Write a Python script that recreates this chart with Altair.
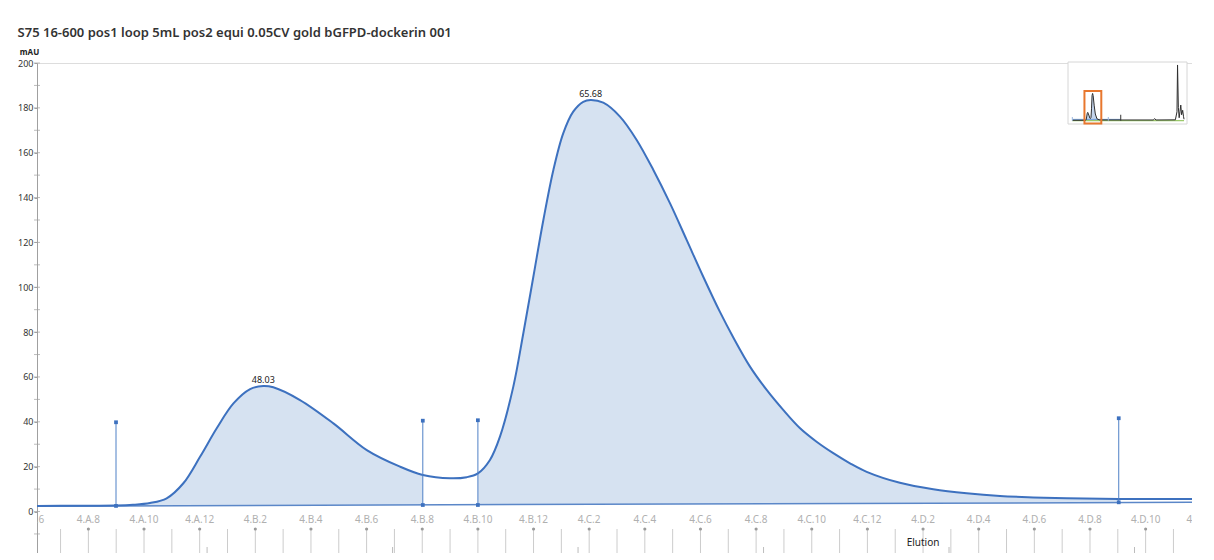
import altair as alt
import pandas as pd
import numpy as np

title_text = "S75 16-600 pos1 loop 5mL pos2 equi 0.05CV gold bGFPD-dockerin 001"

# UV trace (ml, mAU)
curve_ml = [35.83, 38.0, 40.09, 41.0, 41.92, 42.82, 43.72, 44.62, 45.52, 46.42, 47.32, 48.03, 48.57,
            50.01, 51.81, 53.61, 55.40, 56.63, 58.10, 59.0, 59.60, 60.25, 60.79, 61.51, 62.05, 62.59,
            63.13, 63.67, 64.20, 64.74, 65.28, 65.68, 66.36, 67.26, 68.16, 69.06, 69.96, 70.86, 71.75,
            72.65, 73.37, 74.27, 75.17, 76.06, 76.97, 77.86, 78.76, 79.66, 80.56, 82.35, 84.15, 85.95,
            87.75, 89.54, 91.34, 94.15, 98.10]
curve_mau = [2.5, 2.6, 2.7, 3.0, 3.8, 5.9, 12.6, 24.4, 37.1, 48.2, 54.6, 56.0, 55.4,
             49.7, 39.3, 27.4, 20.0, 16.3, 14.8, 15.3, 17.0, 23.0, 33.4, 55.7, 79.5, 104.7,
             130.0, 152.3, 168.6, 178.3, 182.7, 183.5, 182.3, 176.1, 165.7, 152.3, 137.4, 121.0, 104.7,
             89.0, 77.6, 64.6, 54.2, 45.3, 37.1, 31.1, 26.0, 21.5, 17.7, 12.8, 9.9, 8.1,
             6.9, 6.3, 5.9, 5.6, 5.6]

base_ml = [35.83, 98.10]
base_mau = [2.4, 4.1]

peak_ml = [48.03, 65.68]
peak_mau = [56.0, 183.5]
peak_labels = ["48.03", "65.68"]

drop_ml = [40.09, 56.63, 59.60, 94.15]
drop_top = [39.8, 40.5, 40.7, 41.6]
drop_bottom = [2.5, 2.9, 2.9, 4.1]

frac_names = ["4.A.6", "4.A.7", "4.A.8", "4.A.9", "4.A.10", "4.A.11", "4.A.12",
              "4.B.1", "4.B.2", "4.B.3", "4.B.4", "4.B.5", "4.B.6", "4.B.7", "4.B.8", "4.B.9",
              "4.B.10", "4.B.11", "4.B.12",
              "4.C.1", "4.C.2", "4.C.3", "4.C.4", "4.C.5", "4.C.6", "4.C.7", "4.C.8", "4.C.9",
              "4.C.10", "4.C.11", "4.C.12",
              "4.D.1", "4.D.2", "4.D.3", "4.D.4", "4.D.5", "4.D.6", "4.D.7", "4.D.8", "4.D.9",
              "4.D.10", "4.D.11", "4.D.12"]
frac_ml = [35.6, 37.1, 38.6, 40.1, 41.6, 43.1, 44.6,
           46.1, 47.6, 49.1, 50.6, 52.1, 53.6, 55.1, 56.6, 58.1,
           59.6, 61.1, 62.6,
           64.1, 65.6, 67.1, 68.6, 70.1, 71.6, 73.1, 74.6, 76.1,
           77.6, 79.1, 80.6,
           82.1, 83.6, 85.1, 86.6, 88.1, 89.6, 91.1, 92.6, 94.1,
           95.6, 97.1, 98.6]

elution_ml = [83.6]
elution_text = ["Elution"]

# axis tick values
y_major = [0, 20, 40, 60, 80, 100, 120, 140, 160, 180, 200]
y_minor = [-10, 10, 30, 50, 70, 90, 110, 130, 150, 170, 190]
x_major = [40, 50, 60, 70, 80, 90]
x_minor = [45, 55, 65, 75, 85, 95]

# overview inset (run overview, ml / mAU)
ov_ml = [-9, 40, 42, 44, 46, 48, 52, 56, 58, 60, 62, 64, 66, 68, 72, 76, 82, 90, 100, 170, 290,
         296, 300, 372, 378, 380, 383, 386, 389, 392, 395, 399, 402, 404]
ov_mau = [3, 3, 6, 25, 48, 56, 38, 17, 15, 22, 80, 170, 183, 168, 100, 45, 13, 6, 5, 5, 5,
          14, 5, 6, 60, 374, 90, 20, 60, 105, 40, 70, 30, 10]
ov_blue_ml = [-9, 170]
ov_blue_mau = [9, 9]
ov_green_ml = [-9, 404]
ov_green_mau = [0, 0]
ov_tick_ml = [-9, 124, 170]
ov_tick_top = [25, 25, 40]
ov_tick_color = ["#9db8e0", "#9db8e0", "#333333"]

# ---------------- layout ----------------
W, H = 1155, 490
XDOM = [35.83, 98.10]
YDOM = [-18.5, 200]
BLUE = "#3d71bf"
FILL = "#d6e2f1"
FONT = "Noto Sans"
AXC = "#a0a0a0"

xscale = alt.Scale(domain=XDOM, nice=False, zero=False)
yscale = alt.Scale(domain=YDOM, nice=False, zero=False)
xaxis = alt.Axis(values=x_major, labelOverlap=False, format="d",
                 grid=False, domainColor=AXC, tickColor=AXC, tickSize=4,
                 labelFontSize=9, labelColor="#333", labelFont=FONT,
                 title="ml", titleFontSize=9, titleFontWeight="normal", titleFont=FONT,
                 titleAnchor="end", titleAlign="left", titleX=W + 12, titleY=2,
                 titleBaseline="top")
yaxis = alt.Axis(values=y_major, labelOverlap=False, format="d",
                 grid=False, domainColor=AXC, tickColor=AXC, tickSize=3,
                 labelPadding=1, labelFontSize=9, labelColor="#333", labelFont=FONT,
                 title="mAU", titleAngle=0, titleAlign="center", titleBaseline="alphabetic",
                 titleX=-8, titleY=-9, titleFontSize=8, titleFontWeight="bold",
                 titleFont=FONT, titleColor="#222")


def X():
    return alt.X("ml:Q", scale=xscale, axis=xaxis)


def Y():
    return alt.Y("mau:Q", scale=yscale, axis=yaxis)


curve_df = pd.DataFrame({"ml": curve_ml, "mau": curve_mau})
base_df = pd.DataFrame({"ml": base_ml, "mau": base_mau})

rows = []
for pid, (a, b) in enumerate([(drop_ml[0], drop_ml[1]), (drop_ml[2], drop_ml[3])]):
    for m, v in zip(curve_ml, curve_mau):
        if a - 1e-6 <= m <= b + 1e-6:
            rows.append({"ml": m, "mau": v, "mau2": float(np.interp(m, base_ml, base_mau)), "peak": pid})
area_df = pd.DataFrame(rows)

peak_df = pd.DataFrame({"ml": peak_ml, "mau": peak_mau, "label": peak_labels})
drop_df = pd.DataFrame({"ml": drop_ml, "mau": drop_top, "mau2": drop_bottom})
drop_pts = pd.DataFrame({"ml": drop_ml + drop_ml, "mau": drop_top + drop_bottom})

frac_df = pd.DataFrame({"ml": frac_ml, "name": frac_names})
frac_df["lab"] = [int(n.split(".")[-1]) % 2 == 0 for n in frac_names]
frac_in = frac_df[(frac_df.ml >= XDOM[0]) & (frac_df.ml <= XDOM[1])]
frac_lab = frac_df[frac_df.lab]
frac_lab_in = frac_in[frac_in.lab]
elu_df = pd.DataFrame({"ml": elution_ml, "text": elution_text})

ymin_df = pd.DataFrame({"mau": y_minor})
ymaj_df = pd.DataFrame({"mau": y_major})
xmin_df = pd.DataFrame({"ml": x_minor})

INTERP = "catmull-rom"
area = alt.Chart(area_df).mark_area(color=FILL, opacity=1, interpolate=INTERP).encode(
    x=X(), y=Y(), y2="mau2:Q", detail="peak:N")
base_line = alt.Chart(base_df).mark_line(color="#5b87c8", strokeWidth=1.5).encode(x=X(), y=Y())
curve = alt.Chart(curve_df).mark_line(color=BLUE, strokeWidth=2, interpolate=INTERP).encode(x=X(), y=Y())
drops = alt.Chart(drop_df).mark_rule(color="#4f80c6", strokeWidth=1).encode(x=X(), y=Y(), y2="mau2:Q")
drop_marks = alt.Chart(drop_pts).mark_square(color="#3d71bf", size=14, opacity=1).encode(x=X(), y=Y())
peak_text = alt.Chart(peak_df).mark_text(fontSize=9, font=FONT, color="#222", baseline="bottom", dy=-1).encode(
    x=X(), y=Y(), text="label:N")

frac_rules = alt.Chart(frac_in).mark_rule(color="#cccccc", strokeWidth=1).encode(
    x=X(), y=alt.datum(-7.8), y2=alt.datum(-18.5))
frac_dots = alt.Chart(frac_lab_in).mark_circle(color="#9a9a9a", size=10, opacity=1).encode(
    x=X(), y=alt.datum(-7.8))
frac_text = alt.Chart(frac_lab).mark_text(fontSize=10, font=FONT, color="#b0b0b0", baseline="middle",
                                          clip=True).encode(x=X(), y=alt.datum(-3.6), text="name:N")
elu = alt.Chart(elu_df).mark_text(fontSize=10, font=FONT, color="#222", baseline="middle").encode(
    x=X(), y=alt.datum(-14.0), text="text:N")

# minor ticks crossing the axis lines
y_minor_ticks = alt.Chart(ymin_df).mark_tick(orient="horizontal", color=AXC, size=6, thickness=1).encode(
    x=alt.datum(XDOM[0]), y=Y())
y_major_ticks = alt.Chart(ymaj_df).mark_tick(orient="horizontal", color=AXC, size=6, thickness=1).encode(
    x=alt.datum(XDOM[0]), y=Y())
x_minor_ticks = alt.Chart(xmin_df).mark_tick(orient="vertical", color=AXC, size=8, thickness=1, yOffset=-2).encode(
    x=X(), y=alt.datum(YDOM[0]))

main = alt.layer(area, base_line, curve, drops, drop_marks, peak_text,
                 frac_rules, frac_dots, frac_text, elu, y_minor_ticks, y_major_ticks, x_minor_ticks)

# ---------------- inset ----------------
IX = alt.Scale(domain=[-25, 415], range=[1031, 1150], nice=False, zero=False)
IY = alt.Scale(domain=[-22, 394], range=[61, -1], nice=False, zero=False)


def IXe(f="iml"):
    return alt.X(f + ":Q", scale=IX, axis=None)


def IYe(f="imau"):
    return alt.Y(f + ":Q", scale=IY, axis=None)


box_df = pd.DataFrame({"iml": [-25], "iml2": [415], "imau": [-22], "imau2": [394]})
orange_df = pd.DataFrame({"iml": [XDOM[0]], "iml2": [XDOM[1]], "imau": [YDOM[0]], "imau2": [YDOM[1]]})
ov_df = pd.DataFrame({"iml": ov_ml, "imau": ov_mau})
ov_fill_df = ov_df[(ov_df.iml >= 40) & (ov_df.iml <= 95)]
ov_blue_df = pd.DataFrame({"iml": ov_blue_ml, "imau": ov_blue_mau})
ov_green_df = pd.DataFrame({"iml": ov_green_ml, "imau": ov_green_mau})
ov_tick_df = pd.DataFrame({"iml": ov_tick_ml, "imau": ov_tick_top, "imau2": [0] * 3, "c": ov_tick_color})

i_box = alt.Chart(box_df).mark_rect(fill="white", stroke="#d6d6d6", strokeWidth=1).encode(
    x=IXe(), x2="iml2:Q", y=IYe(), y2="imau2:Q")
i_fill = alt.Chart(ov_fill_df).mark_area(color="#c3d4ec", opacity=1).encode(x=IXe(), y=IYe(), y2=alt.datum(0))
i_green = alt.Chart(ov_green_df).mark_line(color="#9cc96b", strokeWidth=1.2).encode(x=IXe(), y=IYe())
i_blue = alt.Chart(ov_blue_df).mark_line(color="#6f9bd6", strokeWidth=1).encode(x=IXe(), y=IYe())
i_trace = alt.Chart(ov_df).mark_line(color="#2e2e2e", strokeWidth=1).encode(x=IXe(), y=IYe())
i_ticks = alt.Chart(ov_tick_df).mark_rule(strokeWidth=1).encode(
    x=IXe(), y=IYe(), y2="imau2:Q", color=alt.Color("c:N", scale=None))
i_orange = alt.Chart(orange_df).mark_rect(fill=None, stroke="#e8772e", strokeWidth=2).encode(
    x=IXe(), x2="iml2:Q", y=IYe(), y2="imau2:Q")

inset = alt.layer(i_box, i_fill, i_green, i_blue, i_trace, i_ticks, i_orange)

chart = alt.layer(main, inset).resolve_scale(x="independent", y="independent").resolve_axis(
    x="independent", y="independent").properties(
    width=W, height=H,
    autosize=alt.AutoSizeParams(type="none"),
    padding={"left": 29, "top": 55, "right": 0, "bottom": 0},
    title=alt.TitleParams(title_text, anchor="start", fontSize=13, font=FONT, fontWeight=600,
                          color="#333", offset=8, dx=0, frame="bounds"),
).configure_view(stroke=None).configure(background="white")

chart.save("out.html", embed_options={"renderer": "svg", "actions": False})
